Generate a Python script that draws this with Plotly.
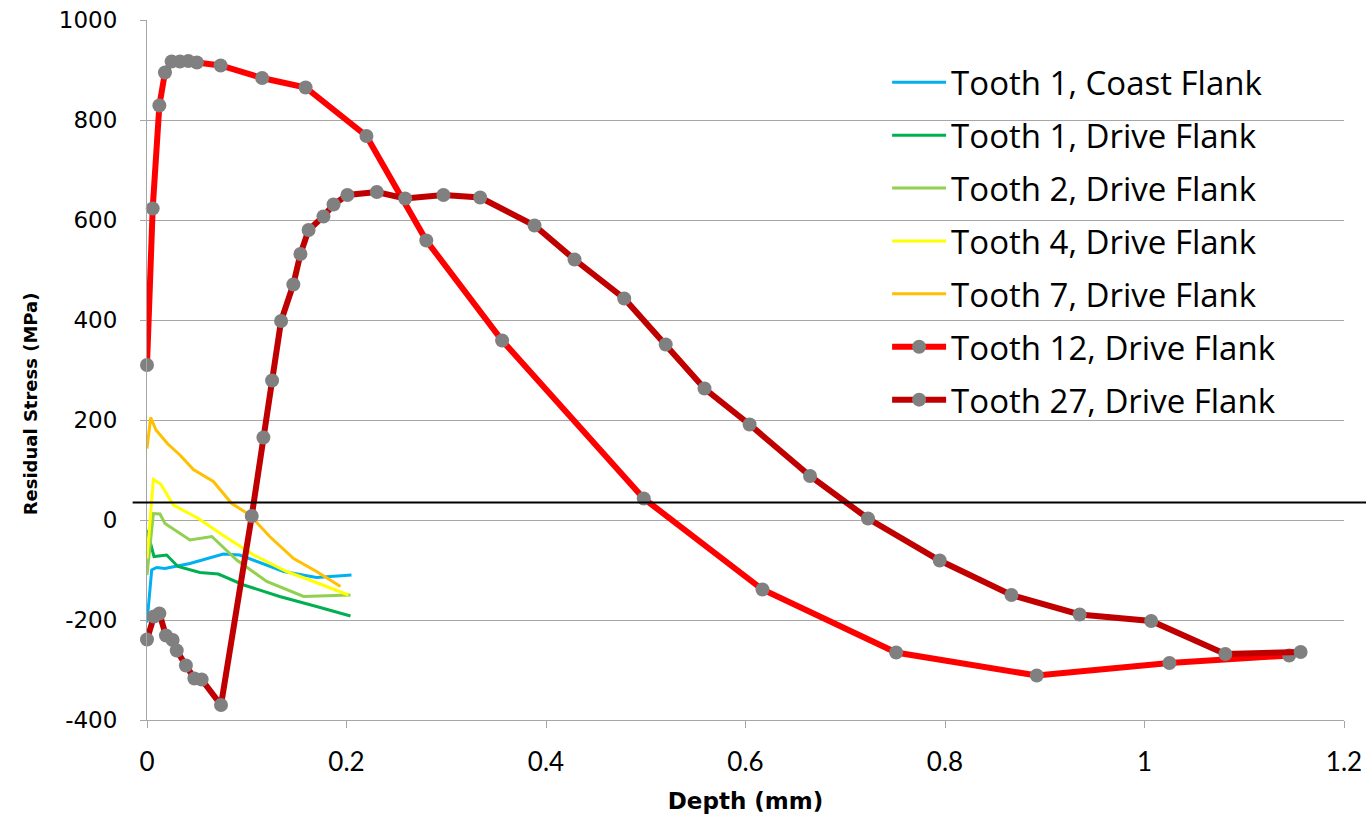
import plotly.graph_objects as go

# ---------------- data ----------------
t1c_x = [0, 0.0047, 0.0097, 0.018, 0.043, 0.0765, 0.093, 0.137, 0.17, 0.205]
t1c_y = [-205, -100, -95, -97, -87, -68, -70, -103, -115, -110]

t1d_x = [0, 0.007, 0.0197, 0.031, 0.053, 0.0715, 0.097, 0.133, 0.17, 0.204]
t1d_y = [-20, -73, -70, -93, -105, -108, -130, -153, -173, -192]

t2_x = [0, 0.0064, 0.013, 0.018, 0.043, 0.065, 0.09, 0.12, 0.157, 0.204]
t2_y = [-110, 13, 12, -7, -40, -33, -80, -123, -153, -150]

t4_x = [0, 0.0064, 0.0137, 0.0264, 0.0515, 0.078, 0.107, 0.14, 0.167, 0.202]
t4_y = [-77, 81, 72, 30, 3, -33, -70, -103, -123, -150]

t7_x = [0, 0.0037, 0.009, 0.0204, 0.033, 0.0465, 0.0665, 0.085, 0.103, 0.123, 0.147, 0.170, 0.194]
t7_y = [143, 205, 180, 153, 130, 101, 77, 33, 10, -33, -77, -103, -133]

t12_x = [0, 0.0057, 0.0124, 0.018, 0.0247, 0.033, 0.0414, 0.05, 0.0738, 0.1154, 0.159, 0.22,
         0.28, 0.356, 0.498, 0.617, 0.751, 0.892, 1.025, 1.145]
t12_y = [310, 623, 829, 895, 917, 917, 918, 915, 909, 884, 865, 768,
         559, 359, 43, -139, -265, -311, -286, -271]

t27_x = [0, 0.007, 0.0124, 0.019, 0.0257, 0.0298, 0.039, 0.0475, 0.0548, 0.0742,
         0.105, 0.1167, 0.1254, 0.1344, 0.1467, 0.1538, 0.162, 0.1769, 0.187, 0.2009,
         0.2304, 0.2588, 0.2972, 0.334, 0.3885, 0.4286, 0.4784, 0.52, 0.5589, 0.6041,
         0.6647, 0.7228, 0.7947, 0.8666, 0.935, 1.0067, 1.081, 1.1565]
t27_y = [-239, -193, -187, -231, -240, -261, -291, -317, -319, -370,
         8, 165, 279, 398, 471, 532, 580, 607, 631, 650,
         656, 643, 650, 645, 589, 521, 443, 351, 263, 191,
         88, 3, -81, -150, -189, -202, -268, -264]

reference_level = 35  # black horizontal line (MPa)

y_tickvals = [-400, -200, 0, 200, 400, 600, 800, 1000]
y_ticktext = ["-400", "-200", "0", "200", "400", "600", "800", "1000"]
x_tickvals = [0, 0.2, 0.4, 0.6, 0.8, 1, 1.2]
x_ticktext = ["0", "0.2", "0.4", "0.6", "0.8", "1", "1.2"]

# ---------------- figure ----------------
fig = go.Figure()

thin = [
    ("Tooth 1, Coast Flank", t1c_x, t1c_y, "#00B0F0"),
    ("Tooth 1, Drive Flank", t1d_x, t1d_y, "#00B050"),
    ("Tooth 2, Drive Flank", t2_x, t2_y, "#92D050"),
    ("Tooth 4, Drive Flank", t4_x, t4_y, "#FFFF00"),
    ("Tooth 7, Drive Flank", t7_x, t7_y, "#FFC000"),
]
for name, xs, ys, col in thin:
    fig.add_trace(go.Scatter(x=xs, y=ys, mode="lines", name=name, legendgroup=name,
                             line=dict(color=col, width=3), cliponaxis=False))

thick = [
    ("Tooth 12, Drive Flank", t12_x, t12_y, "#FF0000"),
    ("Tooth 27, Drive Flank", t27_x, t27_y, "#C00000"),
]
for name, xs, ys, col in thick:
    fig.add_trace(go.Scatter(x=xs, y=ys, mode="lines+markers", name=name, legendgroup=name,
                             line=dict(color=col, width=6),
                             marker=dict(color="#808080", size=14, line=dict(width=0)),
                             cliponaxis=False))

GRID = "#A6A6A6"

fig.update_layout(
    width=1366, height=819,
    margin=dict(l=147, r=22, t=20, b=99, autoexpand=False),
    paper_bgcolor="white", plot_bgcolor="white",
    showlegend=True,
    legend=dict(
        x=0.6183, y=0.951, xanchor="left", yanchor="top",
        bgcolor="rgba(0,0,0,0)", borderwidth=0,
        font=dict(family="Open Sans", size=33, color="black"),
        itemwidth=54, tracegroupgap=7, traceorder="grouped",
    ),
    xaxis=dict(
        range=[0, 1.2], tickvals=x_tickvals, ticktext=x_ticktext,
        showgrid=False, zeroline=False, automargin=False,
        showline=True, linecolor=GRID, linewidth=1,
        ticks="outside", ticklen=7, tickcolor=GRID,
        ticklabelstandoff=12,
        tickfont=dict(family="Lato", size=26, color="black"),
        title=dict(text="<b>Depth (mm)</b>", standoff=16,
                   font=dict(family="DejaVu Sans", size=23, color="black")),
    ),
    yaxis=dict(
        range=[-400, 1000], tickvals=y_tickvals, ticktext=y_ticktext,
        showgrid=True, gridcolor=GRID, gridwidth=1, zeroline=False, automargin=False,
        showline=True, linecolor=GRID, linewidth=1,
        ticks="outside", ticklen=6, tickcolor=GRID,
        ticklabelstandoff=18,
        tickfont=dict(family="DejaVu Sans", size=23, color="black"),
    ),
    annotations=[dict(
        text="<b>Residual Stress (MPa)</b>", textangle=-90,
        xref="paper", yref="paper", x=-0.0977, y=0.451,
        xanchor="center", yanchor="middle", showarrow=False,
        font=dict(family="DejaVu Sans", size=18, color="black"),
    )],
    shapes=[
        dict(type="rect", xref="paper", yref="y", x0=0.566, x1=0.97, y0=210, y1=950,
             fillcolor="white", line=dict(width=0), layer="between"),
        dict(type="line", xref="paper", yref="y", x0=-0.012, x1=1.02,
             y0=reference_level, y1=reference_level,
             line=dict(color="black", width=2), layer="above"),
    ],
)

fig.write_html("out.html")
